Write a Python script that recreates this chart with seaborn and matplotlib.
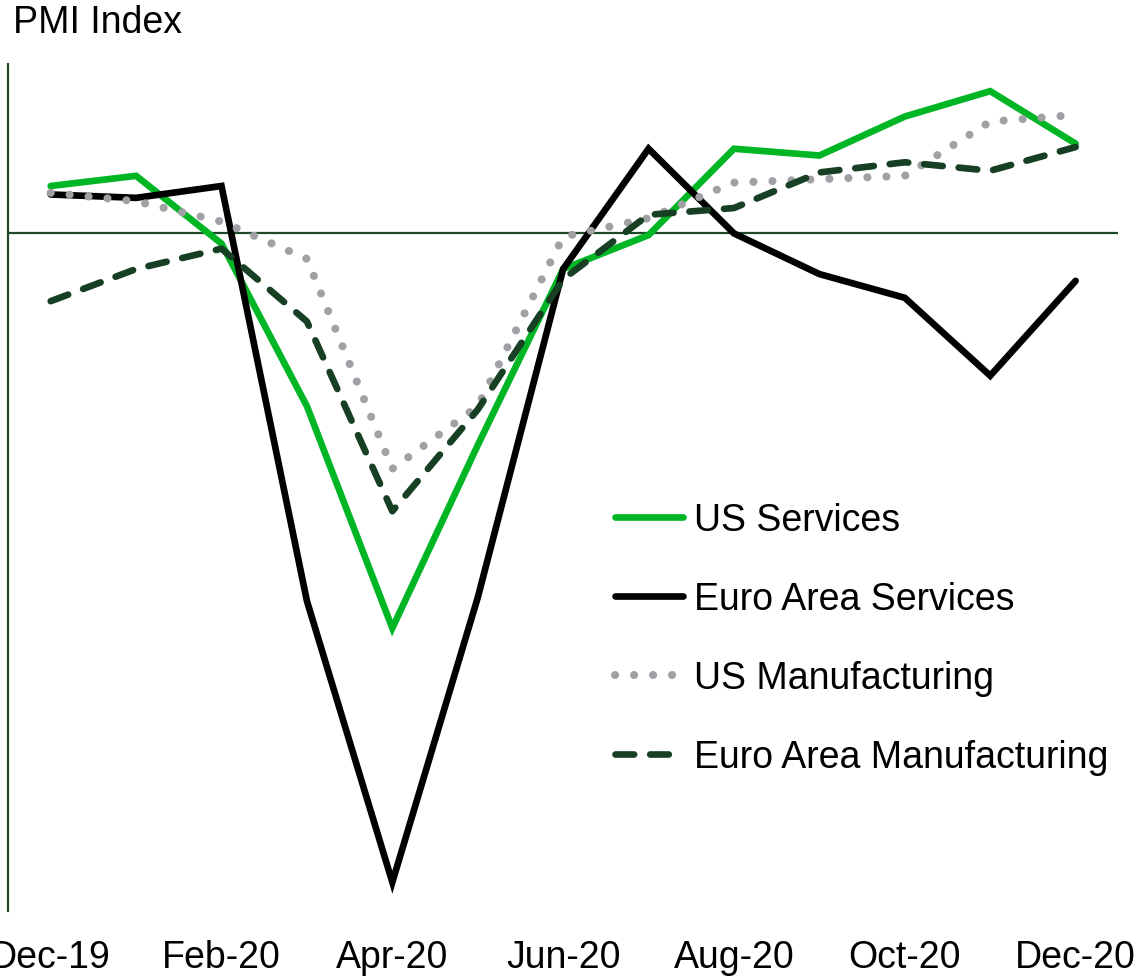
from matplotlib import pyplot as plt
import seaborn as sns
import pandas as pd
import numpy as np

months = ["Dec-19", "Jan-20", "Feb-20", "Mar-20", "Apr-20", "May-20", "Jun-20",
          "Jul-20", "Aug-20", "Sep-20", "Oct-20", "Nov-20", "Dec-20"]
us_services = [52.8, 53.4, 49.4, 39.8, 26.7, 37.5, 47.9, 49.9, 55.0, 54.6, 56.9, 58.4, 55.3]
euro_services = [52.3, 52.1, 52.8, 28.3, 11.7, 28.5, 47.9, 55.0, 50.0, 47.6, 46.2, 41.6, 47.2]
us_manufacturing = [52.4, 51.9, 50.7, 48.5, 36.1, 39.8, 49.8, 50.9, 53.0, 53.2, 53.4, 56.6, 57.0]
euro_manufacturing = [46.0, 47.9, 49.1, 44.8, 33.6, 39.6, 47.3, 51.1, 51.5, 53.6, 54.2, 53.7, 55.1]

series = {
    "US Services": us_services,
    "Euro Area Services": euro_services,
    "US Manufacturing": us_manufacturing,
    "Euro Area Manufacturing": euro_manufacturing,
}
styles = {
    "US Services": dict(color="#00B624", linestyle="-", lw=4.8),
    "Euro Area Services": dict(color="#000000", linestyle="-", lw=4.8),
    "US Manufacturing": dict(color="#A0A0A5", linestyle=(0, (0.01, 2.35)), lw=5.8),
    "Euro Area Manufacturing": dict(color="#173F24", linestyle=(0, (2.8, 2.4)), lw=4.8),
}

df = pd.DataFrame({"idx": np.arange(len(months)), "month": months, **series})
long = df.melt(id_vars=["idx", "month"], var_name="series", value_name="pmi")

sns.set_style("white")
plt.rcParams["font.family"] = ["Liberation Sans", "DejaVu Sans"]
plt.rcParams["text.color"] = "black"
plt.rcParams["xtick.color"] = "black"

fig = plt.figure(figsize=(11.4, 9.78), dpi=100)
ax = fig.add_axes([0.007, 0.0675, 0.974, 0.866])

axis_color = "#1E4A2A"
ax.axhline(50, color=axis_color, lw=1.6, zorder=1)

for name in series:
    sub = long[long["series"] == name]
    sns.lineplot(data=sub, x="idx", y="pmi", ax=ax, label=name,
                 solid_capstyle="round", dash_capstyle="round",
                 solid_joinstyle="miter", zorder=3, **styles[name])

fs = 27
ax.set_xlim(-0.5, 12.5)
ax.set_ylim(10, 60)
ax.set_xticks(df["idx"][::2])
ax.set_xticklabels(df["month"][::2], fontsize=fs)
ax.set_yticks([])
ax.tick_params(axis="x", length=0, pad=20)
ax.set_xlabel("")
ax.set_ylabel("")
for s in ["top", "right", "bottom"]:
    ax.spines[s].set_visible(False)
ax.spines["left"].set_color(axis_color)
ax.spines["left"].set_linewidth(1.6)

fig.text(0.011, 0.966, "PMI Index", fontsize=fs, ha="left", va="baseline")

ax.legend(loc="center left", bbox_to_anchor=(0.510, 0.346), bbox_transform=fig.transFigure,
          frameon=False, fontsize=fs, handlelength=1.8, handletextpad=0.3,
          labelspacing=1.14)

fig.savefig("out.png", dpi=100)
